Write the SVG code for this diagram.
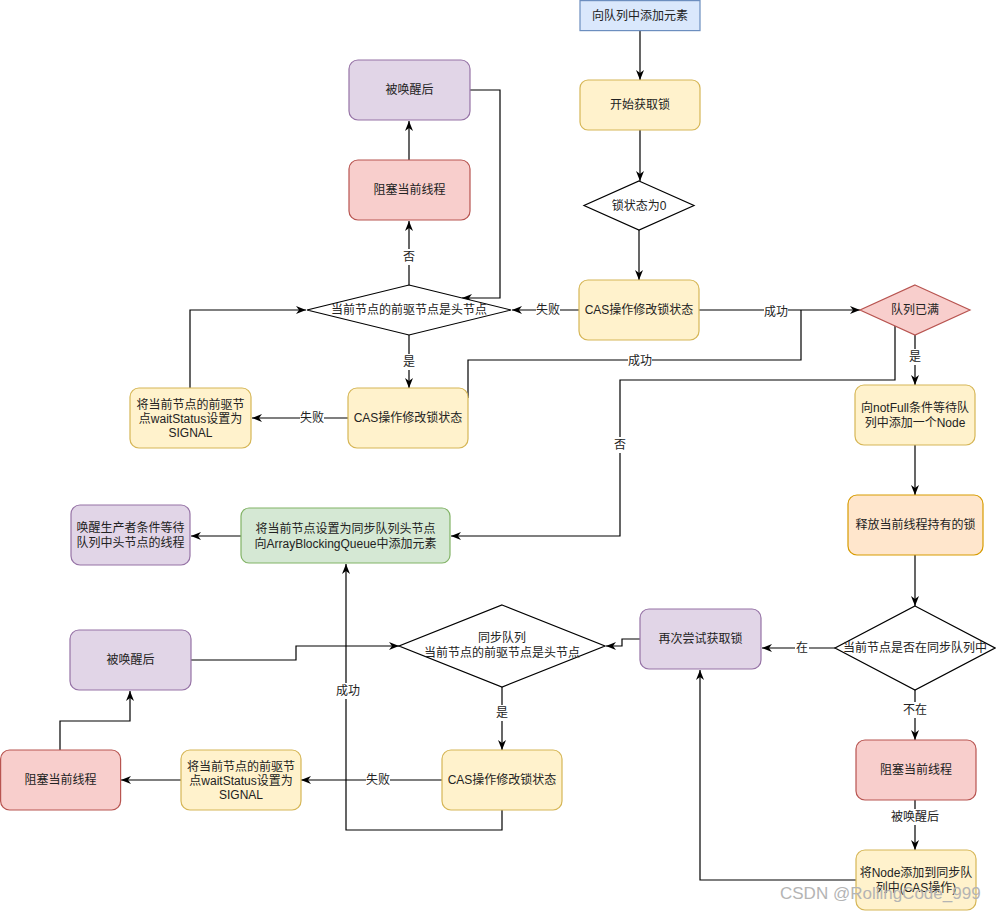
<svg xmlns="http://www.w3.org/2000/svg" width="996" height="911" viewBox="0 0 996 911">
<style>
text{font-family:"Liberation Sans","Noto Sans CJK SC",sans-serif;font-size:12px;fill:#222;text-anchor:middle}
.e{fill:none;stroke:#000;stroke-width:1.2}
.ea{fill:none;stroke:#000;stroke-width:1.2;marker-end:url(#arr)}
.lb{fill:#fff}
.y{fill:#fff2cc;stroke:#d6b656;stroke-width:1.2}
.p{fill:#e1d5e7;stroke:#9673a6;stroke-width:1.2}
.r{fill:#f8cecc;stroke:#b85450;stroke-width:1.2}
.g{fill:#d5e8d4;stroke:#82b366;stroke-width:1.2}
.o{fill:#ffe6cc;stroke:#d79b00;stroke-width:1.2}
.b{fill:#dae8fc;stroke:#6c8ebf;stroke-width:1.2}
.d{fill:#fff;stroke:#000;stroke-width:1.2}
.wm{font-size:17px;fill:#b4b4b4;text-anchor:start}
</style>
<defs>
<marker id="arr" viewBox="0 0 10 10" refX="10" refY="5" markerWidth="10" markerHeight="10" orient="auto" markerUnits="userSpaceOnUse">
<path d="M0,1 L10,5 L0,9 L3,5 z" fill="#000"/>
</marker>
</defs>
<rect width="996" height="911" fill="#fff"/>
<g id="connectors">
<path class="ea" d="M640,30 V80"/>
<path class="ea" d="M640,130 V181"/>
<path class="ea" d="M639,230 V280"/>
<path class="ea" d="M579,310 H512"/>
<path class="ea" d="M699,310 H860"/>
<path class="e" d="M468,398 V360 H801 V310"/>
<path class="ea" d="M895,326 V380 H620 V536 H451"/>
<path class="ea" d="M915,335 V385"/>
<path class="ea" d="M915,445 V495"/>
<path class="ea" d="M915,555 V606"/>
<path class="ea" d="M835,648 H762"/>
<path class="ea" d="M915,690 V740"/>
<path class="ea" d="M915,800 V850"/>
<path class="ea" d="M856,880 H700 V670"/>
<path class="ea" d="M640,639 H622 V646 H606"/>
<path class="ea" d="M502,687 V750"/>
<path class="ea" d="M442,780 H301"/>
<path class="ea" d="M181,780 H121"/>
<path class="ea" d="M60,750 V721 H130 V691"/>
<path class="ea" d="M191,660 H296 V646 H399"/>
<path class="ea" d="M502,810 V830 H346 V564"/>
<path class="ea" d="M241,536 H191"/>
<path class="ea" d="M409,285 V221"/>
<path class="ea" d="M409,160 V121"/>
<path class="ea" d="M470,90 H500 V298 H462"/>
<path class="ea" d="M409,335 V388"/>
<path class="ea" d="M348,418 H252"/>
<path class="ea" d="M190,388 V310 H306"/>
<g id="edge-labels">
<rect class="lb" x="402" y="249" width="14" height="16"/><text x="409" y="261">否</text>
<rect class="lb" x="402" y="354" width="14" height="16"/><text x="409" y="366">是</text>
<rect class="lb" x="300" y="410" width="24" height="16"/><text x="312" y="422">失败</text>
<rect class="lb" x="536" y="302" width="24" height="16"/><text x="548" y="314">失败</text>
<rect class="lb" x="764" y="304" width="24" height="16"/><text x="776" y="316">成功</text>
<rect class="lb" x="628" y="353" width="24" height="16"/><text x="640" y="365">成功</text>
<rect class="lb" x="908" y="349" width="14" height="16"/><text x="915" y="361">是</text>
<rect class="lb" x="613" y="437" width="14" height="16"/><text x="620" y="449">否</text>
<rect class="lb" x="795" y="640" width="14" height="16"/><text x="802" y="652">在</text>
<rect class="lb" x="903" y="702" width="24" height="16"/><text x="915" y="714">不在</text>
<rect class="lb" x="891" y="809" width="48" height="16"/><text x="915" y="821">被唤醒后</text>
<rect class="lb" x="495" y="705" width="14" height="16"/><text x="502" y="717">是</text>
<rect class="lb" x="366" y="772" width="24" height="16"/><text x="378" y="784">失败</text>
<rect class="lb" x="336" y="683" width="24" height="16"/><text x="348" y="695">成功</text>
</g>
</g>
<g id="n1"><rect class="b" x="580" y="0.6" width="120" height="30"/><text x="640" y="19.5">向队列中添加元素</text></g>
<g id="n2"><rect class="y" x="580" y="80" width="120" height="50" rx="8"/><text x="640" y="109">开始获取锁</text></g>
<g id="n3"><path class="d" d="M639,181 L694,205.5 L639,230 L584,205.5 Z"/><text x="639" y="210">锁状态为0</text></g>
<g id="n4"><rect class="y" x="579" y="280" width="120" height="60" rx="9"/><text x="639" y="314">CAS操作修改锁状态</text></g>
<g id="n5"><path class="d" d="M409,285 L511,310 L409,335 L307,310 Z"/><text x="409" y="314">当前节点的前驱节点是头节点</text></g>
<g id="n6"><rect class="r" x="349" y="160" width="121" height="60" rx="9"/><text x="409.5" y="194">阻塞当前线程</text></g>
<g id="n7"><rect class="p" x="349" y="60" width="121" height="60" rx="9"/><text x="409.5" y="94">被唤醒后</text></g>
<g id="n8"><rect class="y" x="348" y="388" width="120" height="60" rx="9"/><text x="408" y="422">CAS操作修改锁状态</text></g>
<g id="n9"><rect class="y" x="130" y="388" width="121" height="60" rx="9"/><text x="190.5" y="409">将当前节点的前驱节</text><text x="190.5" y="423">点waitStatus设置为</text><text x="190.5" y="437">SIGNAL</text></g>
<g id="n10"><path class="r" d="M915,285 L970,310 L915,335 L860,310 Z"/><text x="915" y="314">队列已满</text></g>
<g id="n11"><rect class="y" x="855" y="385" width="120" height="60" rx="9"/><text x="915" y="412">向notFull条件等待队</text><text x="915" y="427">列中添加一个Node</text></g>
<g id="n12"><rect class="o" x="848" y="495" width="135" height="60" rx="9"/><text x="915.5" y="529">释放当前线程持有的锁</text></g>
<g id="n13"><path class="d" d="M915,606 L995,648 L915,690 L835,648 Z"/><text x="915" y="652">当前节点是否在同步队列中</text></g>
<g id="n14"><rect class="r" x="856" y="740" width="120" height="60" rx="9"/><text x="916" y="774">阻塞当前线程</text></g>
<g id="n15"><rect class="y" x="856" y="850" width="120" height="60" rx="9"/><text x="916" y="877">将Node添加到同步队</text><text x="916" y="892">列中(CAS操作)</text></g>
<g id="n16"><rect class="p" x="640" y="609" width="121" height="60" rx="9"/><text x="700.5" y="643">再次尝试获取锁</text></g>
<g id="n17"><path class="d" d="M502,605 L605,646 L502,687 L399,646 Z"/><text x="502" y="642">同步队列</text><text x="502" y="657">当前节点的前驱节点是头节点</text></g>
<g id="n18"><rect class="y" x="442" y="750" width="120" height="60" rx="9"/><text x="502" y="784">CAS操作修改锁状态</text></g>
<g id="n19"><rect class="y" x="181" y="750" width="120" height="60" rx="9"/><text x="241" y="771">将当前节点的前驱节</text><text x="241" y="785">点waitStatus设置为</text><text x="241" y="799">SIGNAL</text></g>
<g id="n20"><rect class="r" x="0.6" y="750" width="120" height="60" rx="9"/><text x="60.5" y="784">阻塞当前线程</text></g>
<g id="n21"><rect class="p" x="70" y="630" width="121" height="60" rx="9"/><text x="130.5" y="664">被唤醒后</text></g>
<g id="n22"><rect class="g" x="241" y="508" width="209" height="55" rx="8"/><text x="345.5" y="533">将当前节点设置为同步队列头节点</text><text x="345.5" y="548">向ArrayBlockingQueue中添加元素</text></g>
<g id="n23"><rect class="p" x="71" y="505" width="119" height="60" rx="9"/><text x="130.5" y="532">唤醒生产者条件等待</text><text x="130.5" y="547">队列中头节点的线程</text></g>
<text class="wm" x="780" y="899">CSDN @RollingCode_999</text>
</svg>
